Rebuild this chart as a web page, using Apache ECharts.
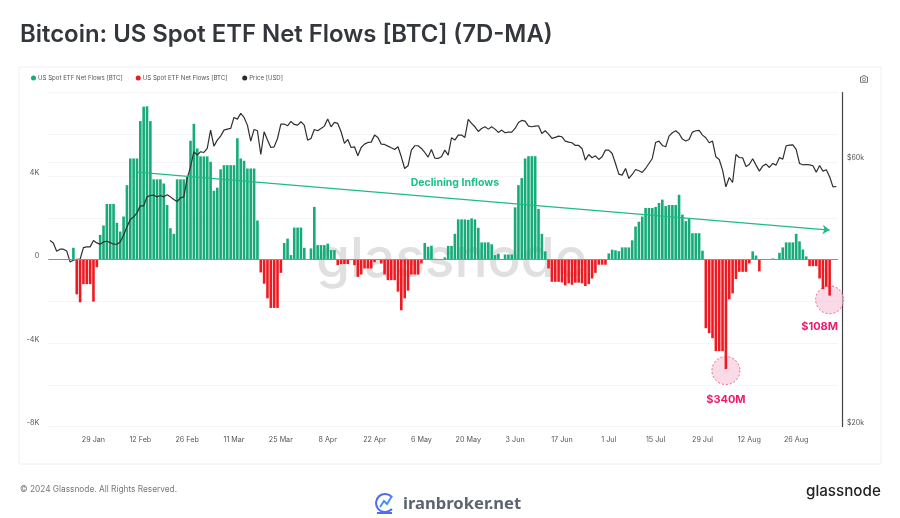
<!DOCTYPE html>
<html>
<head>
<meta charset="utf-8">
<title>Bitcoin: US Spot ETF Net Flows [BTC] (7D-MA)</title>
<script src="https://cdn.jsdelivr.net/npm/echarts@6/dist/echarts.min.js"></script>
<style>
  html, body { margin: 0; padding: 0; background: #fff; }
  #container { width: 900px; height: 518px; }
</style>
</head>
<body>
<div id="container"></div>
<script>
var firstDay = Date.UTC(2024, 0, 16);
var monthNames = ['Jan', 'Feb', 'Mar', 'Apr', 'May', 'Jun', 'Jul', 'Aug', 'Sep'];

// 7D-MA net flows in BTC, one per day from 16 Jan
var netFlows = [
  0, 0, 0, 0, 0, 0, 0, 560, -1670, -2050, -1180, -1180, -1180, -2020, -370,
  1180, 1630, 2660, 2660, 2660, 1760, 1340, 2060, 3560, 4840, 4840, 4840, 6630, 7320, 7340,
  6630, 3840, 3840, 3840, 3640, 2610, 1500, 1230, 3840, 3840, 3840, 3970, 5690, 6500, 5320,
  4940, 4940, 4940, 4680, 3290, 3440, 4320, 4520, 4520, 4520, 4520, 5810, 4840, 4730, 4360,
  4360, 4360, 1870, -620, -1160, -1860, -2320, -2320, -2320, -640, 790, 1000, 210, 1530, 1530,
  1530, 560, 0, 530, 2520, 690, 690, 690, 760, 450, 450, -270, -220, -220, -220,
  -30, -270, -830, -720, -430, -430, -430, -130, 0, -190, -720, -990, -990, -990, -1540,
  -2430, -1860, -1490, -720, -720, -720, -190, 790, 610, 660, 0, 0, 0, 100, 650,
  650, 1230, 1920, 1920, 1920, 1900, 1970, 1920, 1520, 820, 820, 820, 730, 210, 270,
  0, 240, 240, 240, 2500, 3560, 3900, 4840, 4950, 4950, 4950, 2420, 1230, 390, -430,
  -1070, -1070, -1070, -1100, -1240, -1140, -1210, -1110, -1110, -1140, -1270, -1180, -910, -640, -250,
  -250, -250, 290, 470, 440, 400, 580, 580, 580, 920, 1580, 1810, 2060, 2470, 2470,
  2470, 2520, 2710, 2870, 2560, 2610, 2610, 2610, 3100, 2150, 1840, 1950, 1260, 1260, 1260,
  420, -3290, -3530, -3770, -4390, -4390, -4390, -5250, -1910, -1620, -940, -590, -590, -590, -190,
  390, 190, -570, 0, 0, 0, 50, 20, 320, 580, 820, 820, 820, 1230, 870,
  480, 150, -320, -320, -320, -910, -1420, -1300, -1730, 0, 0
];

// BTC price in USD, same days
var price = [
  43270, 42850, 41400, 41750, 41750, 41450, 39600, 39870, 40040, 40040, 42030, 42150, 42150, 43270, 42850,
  42610, 43030, 43150, 42910, 42610, 42610, 43030, 44250, 45800, 47220, 47740, 48540, 49970, 49970, 51880,
  52170, 52240, 51880, 52170, 51880, 52310, 51880, 51310, 50890, 51670, 51880, 55990, 58770, 62550, 61680,
  62550, 62370, 63420, 68440, 64030, 65660, 66760, 68440, 68720, 68910, 72130, 71640, 73350, 72130, 69870,
  65390, 68630, 68250, 61850, 67970, 65660, 63680, 63860, 66110, 70170, 70170, 69680, 70950, 70070, 69870,
  70850, 69870, 65660, 66110, 68630, 68250, 68910, 69580, 71640, 69390, 70650, 70360, 67970, 64750, 65840,
  63680, 63860, 61510, 63680, 64570, 65020, 65110, 67030, 66390, 64570, 64480, 64030, 63590, 63160, 63860,
  61260, 58360, 59020, 62980, 64130, 64130, 63420, 62370, 61180, 63160, 60920, 60840, 61260, 62980, 61680,
  66300, 65660, 67030, 67030, 66390, 71540, 70360, 69390, 68060, 68910, 69390, 68720, 69390, 68720, 67780,
  68440, 67690, 67880, 67880, 68910, 70650, 71240, 71040, 69580, 69390, 69580, 69680, 67500, 68250, 67310,
  66110, 66390, 66760, 66570, 65390, 65110, 64930, 64210, 64210, 63420, 60420, 61850, 61010, 61510, 60590,
  61260, 62980, 62980, 62110, 59590, 57000, 56770, 58360, 55990, 56930, 58120, 57800, 57400, 58360, 59590,
  60840, 65020, 65390, 64210, 63860, 66760, 67690, 68250, 67500, 65930, 65390, 65840, 67880, 68250, 68340,
  67030, 66300, 64930, 65390, 61260, 60590, 57960, 54080, 56220, 55070, 61850, 61090, 61010, 58850, 59340,
  60750, 59180, 57720, 58940, 59430, 58610, 59590, 59180, 61090, 60670, 64130, 64300, 64390, 63160, 59590,
  59260, 59340, 59260, 59020, 57480, 59100, 57720, 58040, 56380, 54080, 54160
];

var flowTickLabels = { '4000': '4K', '0': '0', '-4000': '-4K', '-8000': '-8K' };
var priceTicks = [60000, 20000];
var priceTickLabels = ['$60k', '$20k'];

var categories = [];
for (var i = 0; i < netFlows.length; i++) {
  var d = new Date(firstDay + i * 86400000);
  categories.push(d.getUTCDate() + ' ' + monthNames[d.getUTCMonth()]);
}

var inflows = netFlows.map(function (v) { return v > 0 ? v : null; });
var outflows = netFlows.map(function (v) { return v < 0 ? v : null; });

var trendFrom = [26, 4190];
var trendTo = [233, 1410];

var dom = document.getElementById('container');
var myChart = echarts.init(dom);
var fontName = 'Inter, "Noto Sans", sans-serif';
var pink = '#ef1a6c';

var circleStyle = {
  color: 'rgba(248,196,216,0.62)',
  borderColor: '#d9487f',
  borderWidth: 0.8,
  borderType: [2, 2]
};

var option = {
  backgroundColor: '#fff',
  animation: false,
  textStyle: { fontFamily: fontName },
  legend: {
    left: 26,
    top: 70,
    itemWidth: 5,
    itemHeight: 5,
    itemGap: 13,
    icon: 'circle',
    textStyle: { fontSize: 6.1, color: '#555', fontFamily: fontName, padding: [0, 0, 0, -3] },
    data: ['US Spot ETF Net Flows [BTC]', 'US Spot ETF Net Flows [BTC] ', 'Price [USD]']
  },
  grid: { left: 48.3, right: 62, top: 92.5, bottom: 91.5, containLabel: false },
  xAxis: {
    type: 'category',
    data: categories,
    boundaryGap: true,
    axisLine: { onZero: false, lineStyle: { color: '#dcdcdc', width: 1 } },
    axisTick: { show: false },
    axisLabel: {
      interval: function (index) { return index >= 13 && (index - 13) % 14 === 0; },
      color: '#555',
      fontSize: 7.2,
      margin: 10
    },
    splitLine: { show: false }
  },
  yAxis: [{
    type: 'value',
    min: -8000,
    max: 8000,
    interval: 2000,
    axisLine: { show: false },
    axisTick: { show: false },
    axisLabel: {
      color: '#555',
      fontSize: 7.2,
      margin: 9,
      verticalAlign: 'bottom',
      formatter: function (v) { return flowTickLabels[String(v)] || ''; }
    },
    splitLine: { lineStyle: { color: '#f5f5f5', width: 1 } }
  }, {
    type: 'log',
    logBase: 10,
    min: 20000,
    max: 80000,
    position: 'right',
    offset: 4,
    axisLine: { show: true, lineStyle: { color: '#444', width: 1.2 } },
    axisTick: { show: false },
    axisLabel: { show: false },
    splitLine: { show: false }
  }],
  series: [{
    name: 'US Spot ETF Net Flows [BTC]',
    type: 'bar',
    data: inflows,
    barWidth: 2.6,
    barGap: '-100%',
    itemStyle: { color: '#16ab78' },
    z: 3,
    markLine: {
      silent: true,
      animation: false,
      symbol: ['none', 'none'],
      label: { show: false },
      data: [
        { yAxis: 0, lineStyle: { color: '#8f8f8f', width: 1.1, type: 'solid' } },
        [
          { coord: trendFrom, symbol: 'none', lineStyle: { color: '#1dbb8a', width: 1.3, type: 'solid' } },
          { coord: trendTo, symbol: 'arrow', symbolSize: 7 }
        ]
      ],
      z: 6
    },
    markPoint: {
      silent: true,
      animation: false,
      symbol: 'circle',
      symbolSize: 1,
      itemStyle: { color: 'rgba(0,0,0,0)' },
      label: {
        show: true,
        position: 'inside',
        formatter: '{b}',
        color: '#1cbf8b',
        fontSize: 10.5,
        fontWeight: 700,
        fontFamily: fontName
      },
      data: [{ name: 'Declining Inflows', coord: [121, 3660] }],
      z: 7
    }
  }, {
    name: 'US Spot ETF Net Flows [BTC] ',
    type: 'bar',
    data: outflows,
    barWidth: 2.6,
    barGap: '-100%',
    itemStyle: { color: '#ee1a22' },
    z: 3,
    markPoint: {
      silent: true,
      animation: false,
      symbol: 'circle',
      z: 2,
      label: {
        show: true,
        position: 'inside',
        formatter: '{b}',
        color: pink,
        fontSize: 11,
        fontWeight: 700,
        fontFamily: fontName
      },
      data: [
        { name: '', coord: [202, -5320], symbolSize: 28, itemStyle: circleStyle },
        { name: '', coord: [233, -1930], symbolSize: 28, itemStyle: circleStyle },
        { name: '$340M', coord: [202, -6700], symbolSize: 1, itemStyle: { color: 'rgba(0,0,0,0)' } },
        { name: '$108M', coord: [230, -3200], symbolSize: 1, itemStyle: { color: 'rgba(0,0,0,0)' } }
      ]
    }
  }, {
    name: 'Price [USD]',
    type: 'line',
    yAxisIndex: 1,
    data: price,
    showSymbol: false,
    symbol: 'circle',
    itemStyle: { color: '#2b2b2b' },
    lineStyle: { color: '#2f2f2f', width: 1.2 },
    z: 5,
    markLine: {
      silent: true,
      animation: false,
      symbol: ['none', 'none'],
      lineStyle: { color: '#f5f5f5', width: 1, type: 'solid' },
      label: {
        show: true,
        position: 'end',
        distance: 9,
        offset: [0, -3.5],
        color: '#555',
        fontSize: 7,
        fontFamily: fontName,
        align: 'left',
        formatter: '{b}'
      },
      data: priceTicks.map(function (v, k) { return { name: priceTickLabels[k], yAxis: v }; }),
      z: 1
    }
  }],
  graphic: [
    // card behind the plot
    { type: 'rect', z: -10, shape: { x: 19, y: 67, width: 862, height: 397 },
      style: { fill: '#fff', stroke: '#f0f0f0', lineWidth: 1 } },
    // watermark
    { type: 'text', z: -5, x: 316, y: 233, style: { text: 'glassnode', fill: '#e0e0e0',
      font: '500 55px Inter, "Noto Sans", sans-serif' } },
    { type: 'text', z: 10, x: 20, y: 23, style: { text: 'Bitcoin: US Spot ETF Net Flows [BTC] (7D-MA)', fill: '#33373d',
      font: '600 23.9px Inter, "Noto Sans", sans-serif' } },
    { type: 'text', z: 10, x: 20, y: 485.5, style: { text: '\u00a9 2024 Glassnode. All Rights Reserved.', fill: '#777',
      font: '8.3px Inter, "Noto Sans", sans-serif' } },
    { type: 'text', z: 10, x: 403, y: 496, style: { text: 'iranbroker.net', fill: '#5b6470',
      font: '700 16.6px "Noto Sans", sans-serif' } },
    { type: 'text', z: 10, x: 806, y: 483.5, style: { text: 'glassnode', fill: '#222',
      font: '500 15.2px Inter, "Noto Sans", sans-serif' } },
    // iranbroker logo
    { type: 'arc', z: 10, shape: { cx: 385, cy: 503, r: 9, startAngle: -0.7, endAngle: 0.7, clockwise: false },
      style: { fill: 'none', stroke: '#4f6df0', lineWidth: 2 } },
    { type: 'line', z: 10, shape: { x1: 377, y1: 513, x2: 392, y2: 513 },
      style: { stroke: '#4f6df0', lineWidth: 2 } },
    { type: 'polyline', z: 10, shape: { points: [[380, 507], [384, 501], [387, 504], [392, 496]] },
      style: { fill: 'none', stroke: '#3f8cf0', lineWidth: 1.8 } },
    // camera icon
    { type: 'polygon', z: 10, shape: { points: [[860.5, 77], [862, 77], [862.8, 75.8], [865.2, 75.8], [866, 77], [867.5, 77], [867.5, 82.3], [860.5, 82.3]] },
      style: { fill: 'none', stroke: '#777', lineWidth: 1 } },
    { type: 'circle', z: 10, shape: { cx: 864, cy: 79.5, r: 1.5 }, style: { fill: 'none', stroke: '#777', lineWidth: 0.9 } }
  ]
};

myChart.setOption(option);
</script>
</body>
</html>
